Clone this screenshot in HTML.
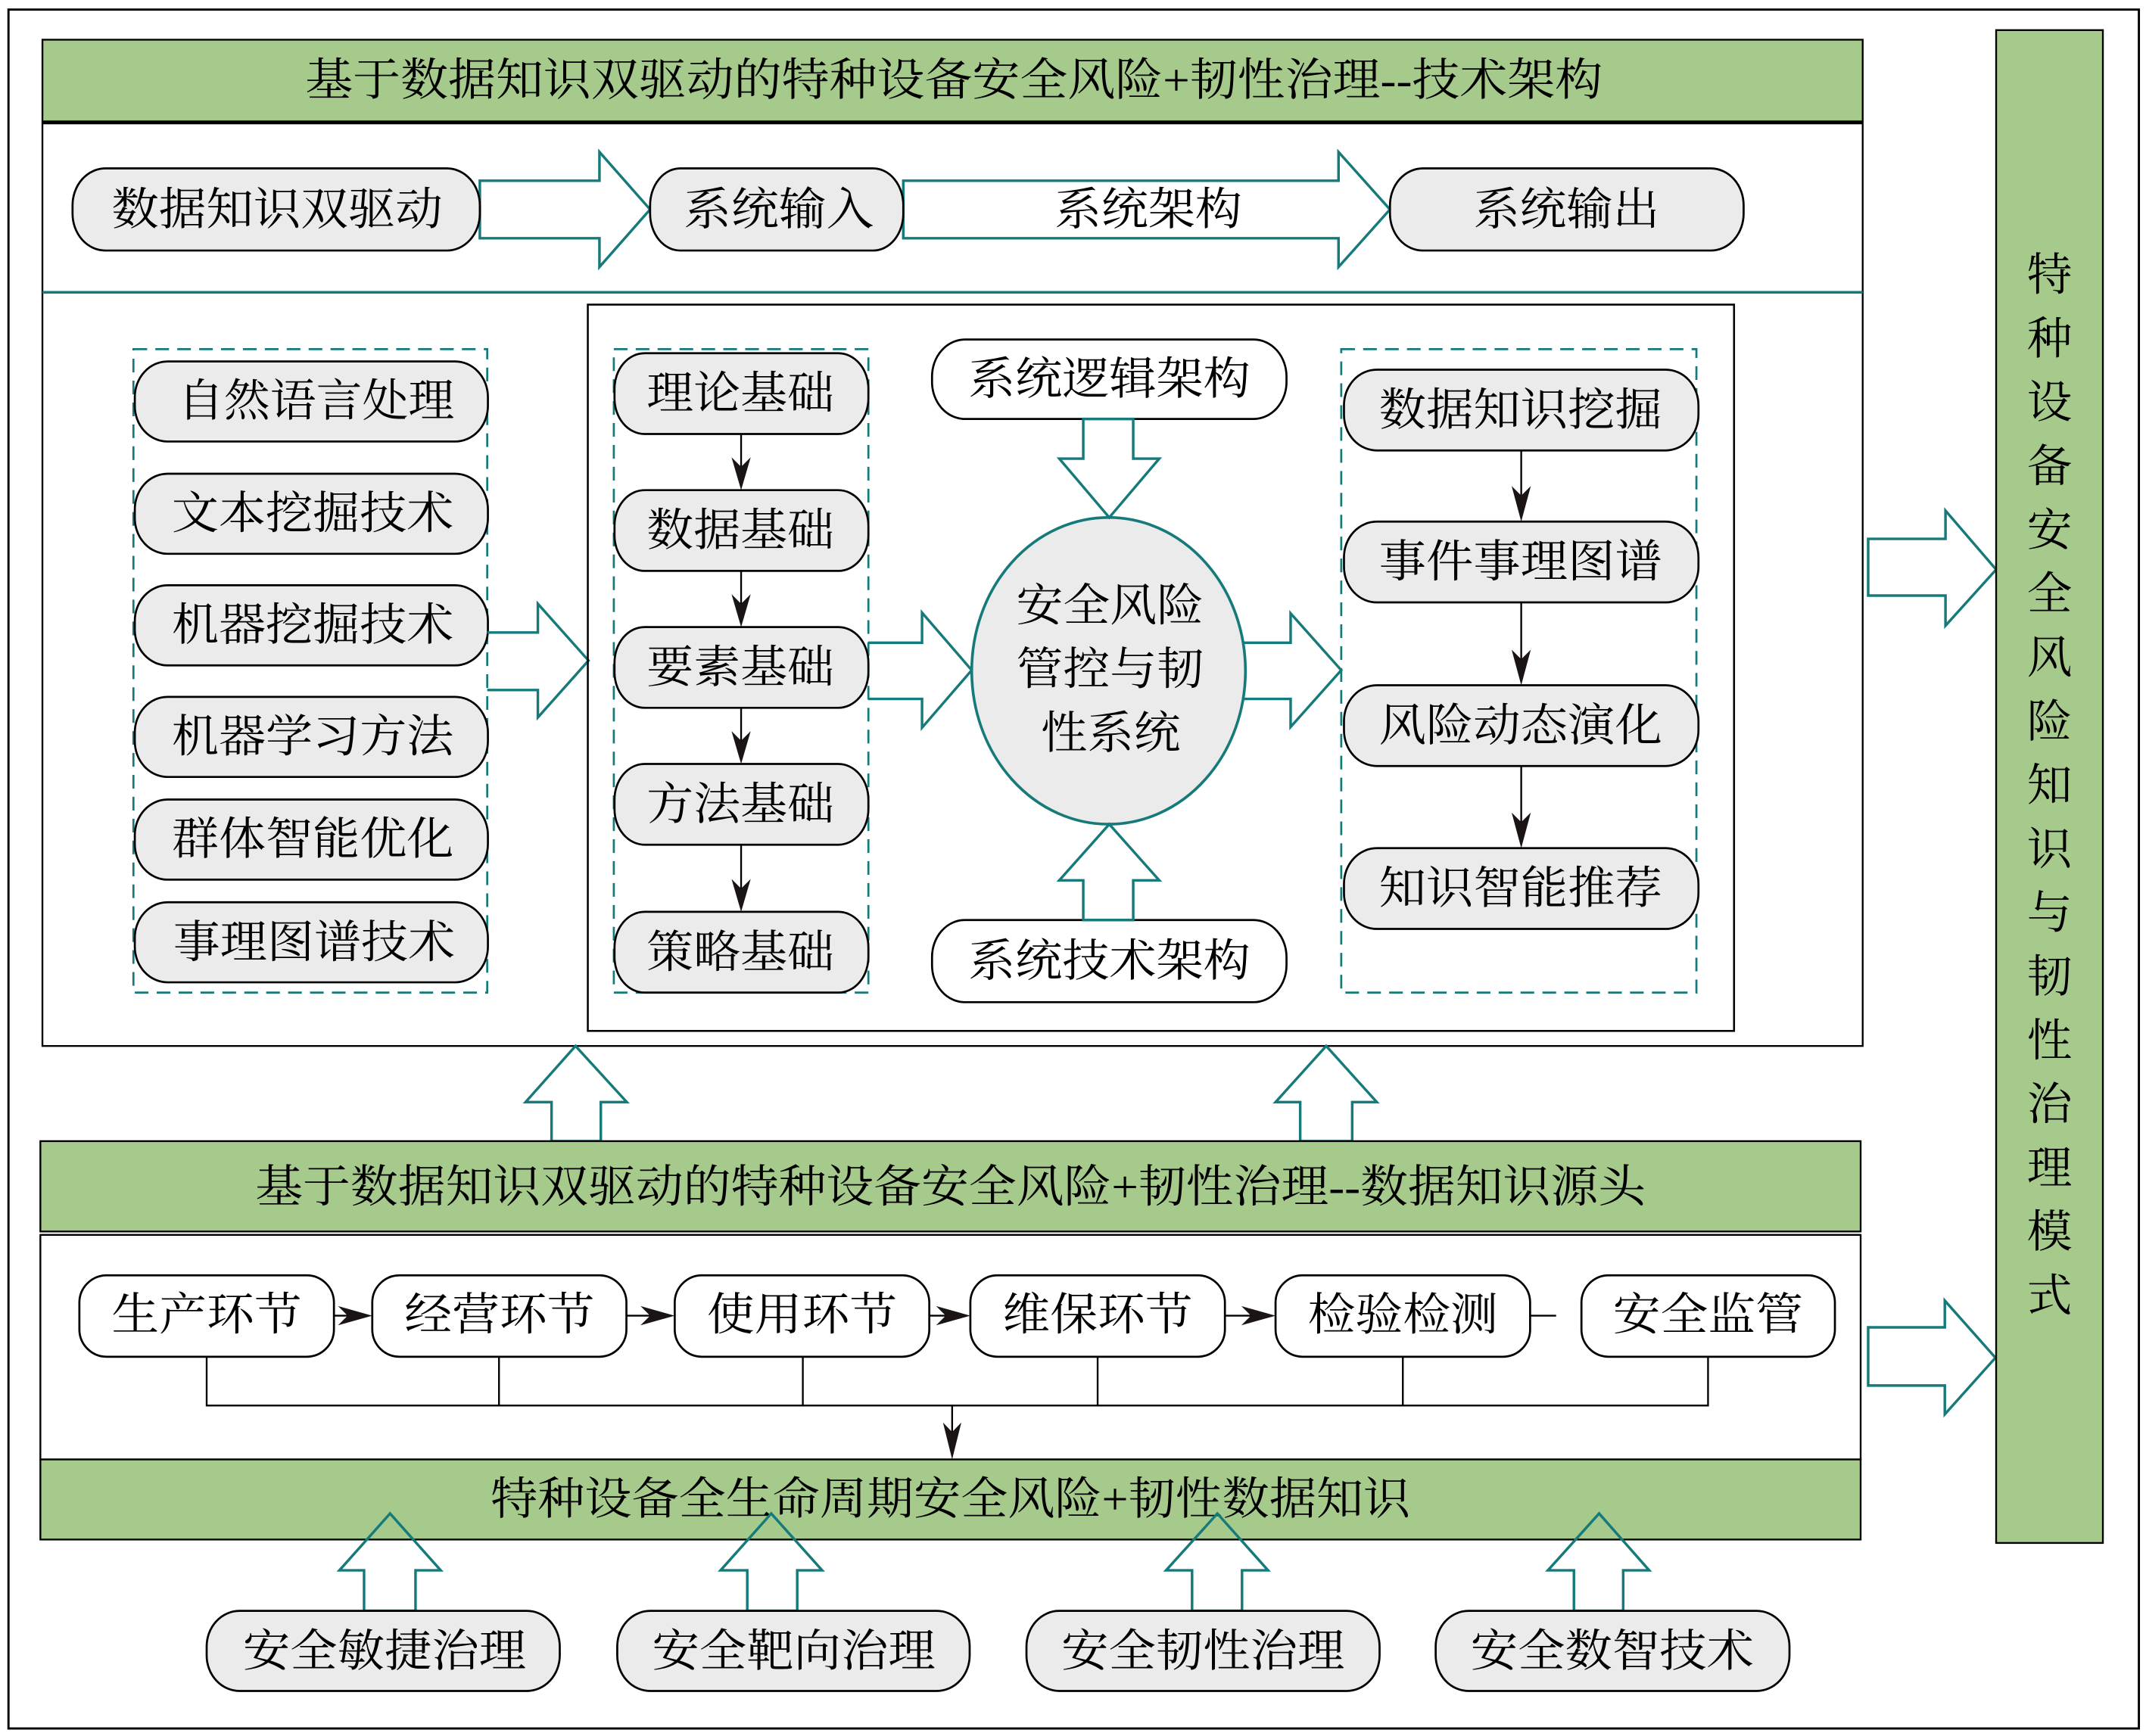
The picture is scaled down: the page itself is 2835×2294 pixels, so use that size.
<!DOCTYPE html>
<html><head><meta charset="utf-8">
<style>
html,body{margin:0;padding:0;background:#fff;width:2835px;height:2294px;overflow:hidden}
svg{display:block}
text{font-family:"Liberation Serif","Noto Serif CJK SC",serif;fill:#000;font-size:33px;dominant-baseline:central}
.g{fill:#ebebeb;stroke:#000;stroke-width:1.5}
.w{fill:#fff;stroke:#000;stroke-width:1.5}
.t{fill:none;stroke:#167a7a;stroke-width:1.9;stroke-linejoin:miter}
.d{fill:none;stroke:#167a7a;stroke-width:1.5;stroke-dasharray:10 6}
.k{stroke:#000;stroke-width:1.3;fill:none}
.h{fill:#1a1414;stroke:none}
.bar{fill:#a6c98c;stroke:#000;stroke-width:1.3}
</style></head>
<body>
<svg width="2835" height="2294" viewBox="0 0 1568 1268" preserveAspectRatio="none" xmlns="http://www.w3.org/2000/svg">
<rect x="0" y="0" width="1568" height="1268" fill="#fff"/>
<!-- outer border -->
<rect x="6.2" y="7" width="1556.6" height="1255.5" fill="none" stroke="#000" stroke-width="1.6"/>

<!-- title bar 1 -->
<rect class="bar" x="31" y="29" width="1330" height="60"/>
<text x="223" y="58.5" textLength="948" lengthAdjust="spacingAndGlyphs">基于数据知识双驱动的特种设备安全风险+韧性治理--技术架构</text>
<!-- upper panel -->
<rect x="31" y="90" width="1330" height="674" fill="none" stroke="#000" stroke-width="1.3"/>
<line x1="31" y1="89.4" x2="1361" y2="89.4" stroke="#000" stroke-width="2.8"/>
<line x1="31" y1="213.5" x2="1361" y2="213.5" stroke="#167a7a" stroke-width="2"/>

<!-- row 1 -->
<polygon class="t" points="350.6,132 438,132 438,111 475,153 438,195 438,174 350.6,174"/>
<polygon class="t" points="660,132 978,132 978,111 1015.6,153 978,195 978,174 660,174"/>
<rect class="g" x="53" y="123" width="297.6" height="60" rx="24" ry="27"/>
<text x="81.5" y="153" textLength="242" lengthAdjust="spacingAndGlyphs">数据知识双驱动</text>
<rect class="g" x="475" y="123" width="185" height="60" rx="22" ry="27"/>
<text x="499.5" y="153" textLength="139" lengthAdjust="spacingAndGlyphs">系统输入</text>
<text x="770.5" y="153" textLength="137" lengthAdjust="spacingAndGlyphs">系统架构</text>
<rect class="g" x="1015.6" y="123" width="258.4" height="60" rx="24" ry="27"/>
<text x="1076.5" y="153" textLength="136" lengthAdjust="spacingAndGlyphs">系统输出</text>

<!-- left column -->
<rect class="d" x="97.5" y="255" width="258.5" height="470"/>
<rect class="g" x="98.5" y="264" width="258" height="58.5" rx="24" ry="26"/>
<text x="130" y="293" textLength="202" lengthAdjust="spacingAndGlyphs">自然语言处理</text>
<rect class="g" x="98.5" y="346" width="258" height="58.5" rx="24" ry="26"/>
<text x="125.5" y="375" textLength="206" lengthAdjust="spacingAndGlyphs">文本挖掘技术</text>
<rect class="g" x="98.5" y="427.5" width="258" height="58.5" rx="24" ry="26"/>
<text x="125.5" y="456.5" textLength="206" lengthAdjust="spacingAndGlyphs">机器挖掘技术</text>
<rect class="g" x="98.5" y="509" width="258" height="58.5" rx="24" ry="26"/>
<text x="125.5" y="538" textLength="206" lengthAdjust="spacingAndGlyphs">机器学习方法</text>
<rect class="g" x="98.5" y="584" width="258" height="58.5" rx="24" ry="26"/>
<text x="125.5" y="613" textLength="206" lengthAdjust="spacingAndGlyphs">群体智能优化</text>
<rect class="g" x="98.5" y="659" width="258" height="58.5" rx="24" ry="26"/>
<text x="126.5" y="688.5" textLength="206" lengthAdjust="spacingAndGlyphs">事理图谱技术</text>

<polyline class="t" points="356,462 393,462 393,441 430,482.5 393,524 393,504 356,504"/>

<!-- inner box -->
<rect x="429.5" y="222.5" width="837.5" height="530.5" fill="none" stroke="#000" stroke-width="1.4"/>

<!-- middle column -->
<rect class="d" x="448.5" y="255" width="186" height="470"/>
<line class="k" x1="541.5" y1="317" x2="541.5" y2="342"/>
<polygon class="h" points="541.5,358 534.5,334 541.5,341 548.5,334"/>
<line class="k" x1="541.5" y1="417" x2="541.5" y2="442"/>
<polygon class="h" points="541.5,458 534.5,434 541.5,441 548.5,434"/>
<line class="k" x1="541.5" y1="517" x2="541.5" y2="542"/>
<polygon class="h" points="541.5,558 534.5,534 541.5,541 548.5,534"/>
<line class="k" x1="541.5" y1="617" x2="541.5" y2="650"/>
<polygon class="h" points="541.5,666 534.5,642 541.5,649 548.5,642"/>
<rect class="g" x="449" y="258" width="185.5" height="59" rx="22" ry="26"/>
<text x="472.5" y="287.5" textLength="137" lengthAdjust="spacingAndGlyphs">理论基础</text>
<rect class="g" x="449" y="358" width="185.5" height="59" rx="22" ry="26"/>
<text x="472.5" y="387.5" textLength="137" lengthAdjust="spacingAndGlyphs">数据基础</text>
<rect class="g" x="449" y="458" width="185.5" height="59" rx="22" ry="26"/>
<text x="472.5" y="487.5" textLength="137" lengthAdjust="spacingAndGlyphs">要素基础</text>
<rect class="g" x="449" y="558" width="185.5" height="59" rx="22" ry="26"/>
<text x="472.5" y="587.5" textLength="137" lengthAdjust="spacingAndGlyphs">方法基础</text>
<rect class="g" x="449" y="666" width="185.5" height="59" rx="22" ry="26"/>
<text x="472.5" y="695.5" textLength="137" lengthAdjust="spacingAndGlyphs">策略基础</text>

<polyline class="t" points="634.4,469.5 673.7,469.5 673.7,447.5 710,489.5 673.7,531.5 673.7,510.5 634.4,510.5"/>

<!-- center ellipse -->
<ellipse cx="810" cy="490" rx="100" ry="112" fill="#ebebeb" stroke="#167a7a" stroke-width="2"/>
<text x="742.5" y="442.5" textLength="137" lengthAdjust="spacingAndGlyphs">安全风险</text>
<text x="742.5" y="489" textLength="137" lengthAdjust="spacingAndGlyphs">管控与韧</text>
<text x="760.5" y="535.5" textLength="102" lengthAdjust="spacingAndGlyphs">性系统</text>

<rect class="w" x="681" y="248" width="259" height="58" rx="24" ry="27"/>
<text x="707.5" y="277" textLength="206" lengthAdjust="spacingAndGlyphs">系统逻辑架构</text>
<polygon class="t" points="791.5,306 791.5,335 774,335 810.5,378 847,335 828,335 828,306"/>
<rect class="w" x="681" y="672" width="259" height="60" rx="24" ry="27"/>
<text x="707.5" y="702" textLength="206" lengthAdjust="spacingAndGlyphs">系统技术架构</text>
<polygon class="t" points="791.5,672 791.5,643 774,643 810.5,602 847,643 828,643 828,672"/>

<polyline class="t" points="908.3,469.5 943,469.5 943,448 980,489.5 943,531 943,510.5 908.3,510.5"/>

<!-- right column -->
<rect class="d" x="980" y="255" width="259.5" height="470"/>
<line class="k" x1="1111.5" y1="329" x2="1111.5" y2="363"/>
<polygon class="h" points="1111.5,381 1104.5,355 1111.5,362 1118.5,355"/>
<line class="k" x1="1111.5" y1="440" x2="1111.5" y2="482"/>
<polygon class="h" points="1111.5,500.5 1104.5,474.5 1111.5,481.5 1118.5,474.5"/>
<line class="k" x1="1111.5" y1="559.5" x2="1111.5" y2="601"/>
<polygon class="h" points="1111.5,619.5 1104.5,593.5 1111.5,600.5 1118.5,593.5"/>
<rect class="g" x="982" y="270" width="259" height="59" rx="24" ry="26"/>
<text x="1007.5" y="299.5" textLength="207" lengthAdjust="spacingAndGlyphs">数据知识挖掘</text>
<rect class="g" x="982" y="381" width="259" height="59" rx="24" ry="26"/>
<text x="1007.5" y="410.5" textLength="207" lengthAdjust="spacingAndGlyphs">事件事理图谱</text>
<rect class="g" x="982" y="500.5" width="259" height="59" rx="24" ry="26"/>
<text x="1007.5" y="530" textLength="207" lengthAdjust="spacingAndGlyphs">风险动态演化</text>
<rect class="g" x="982" y="619.5" width="259" height="59" rx="24" ry="26"/>
<text x="1007.5" y="649" textLength="207" lengthAdjust="spacingAndGlyphs">知识智能推荐</text>

<!-- right arrows -->
<polygon class="t" points="1365,393.6 1421.5,393.6 1421.5,373 1458.5,416 1421.5,457 1421.5,435 1365,435"/>
<polygon class="t" points="1365,969.5 1421,969.5 1421,950 1458,991.7 1421,1033 1421,1012 1365,1012"/>

<!-- right green bar -->
<rect class="bar" x="1458.5" y="22" width="78" height="1105" stroke-width="1.6"/>
<g text-anchor="middle">
<text x="1497.5" y="201">特</text>
<text x="1497.5" y="247.6">种</text>
<text x="1497.5" y="294.2">设</text>
<text x="1497.5" y="340.8">备</text>
<text x="1497.5" y="387.4">安</text>
<text x="1497.5" y="434">全</text>
<text x="1497.5" y="480.6">风</text>
<text x="1497.5" y="527.2">险</text>
<text x="1497.5" y="573.8">知</text>
<text x="1497.5" y="620.4">识</text>
<text x="1497.5" y="667">与</text>
<text x="1497.5" y="713.6">韧</text>
<text x="1497.5" y="760.2">性</text>
<text x="1497.5" y="806.8">治</text>
<text x="1497.5" y="853.4">理</text>
<text x="1497.5" y="900">模</text>
<text x="1497.5" y="946.6">式</text>
</g>

<!-- up arrows between panels -->
<polygon class="t" points="403,833.5 403,805 384,805 420.5,764 458,805 439,805 439,833.5"/>
<polygon class="t" points="950,833.5 950,805 932,805 969,764 1006,805 988,805 988,833.5"/>

<!-- lower title bar -->
<rect class="bar" x="29.5" y="833.5" width="1330" height="66"/>
<text x="186.5" y="867" textLength="1016" lengthAdjust="spacingAndGlyphs">基于数据知识双驱动的特种设备安全风险+韧性治理--数据知识源头</text>
<line x1="29.5" y1="902" x2="1359.5" y2="902" stroke="#000" stroke-width="1.2"/>
<!-- lower panel -->
<rect x="29.5" y="902" width="1330" height="164" fill="none" stroke="#000" stroke-width="1.3"/>

<!-- lifecycle -->
<rect class="w" x="58" y="931.5" width="186" height="59.5" rx="20" ry="20"/>
<text x="81.5" y="960.5" textLength="139" lengthAdjust="spacingAndGlyphs">生产环节</text>
<rect class="w" x="272" y="931.5" width="185.7" height="59.5" rx="20" ry="20"/>
<text x="295.5" y="960.5" textLength="139" lengthAdjust="spacingAndGlyphs">经营环节</text>
<rect class="w" x="493" y="931.5" width="186" height="59.5" rx="20" ry="20"/>
<text x="516.5" y="960.5" textLength="139" lengthAdjust="spacingAndGlyphs">使用环节</text>
<rect class="w" x="709" y="931.5" width="186" height="59.5" rx="20" ry="20"/>
<text x="732.5" y="960.5" textLength="139" lengthAdjust="spacingAndGlyphs">维保环节</text>
<rect class="w" x="932" y="931.5" width="186" height="59.5" rx="20" ry="20"/>
<text x="955.5" y="960.5" textLength="139" lengthAdjust="spacingAndGlyphs">检验检测</text>
<rect class="w" x="1155.5" y="931.5" width="185.2" height="59.5" rx="20" ry="20"/>
<text x="1178.5" y="960.5" textLength="139" lengthAdjust="spacingAndGlyphs">安全监管</text>

<line class="k" x1="244" y1="961" x2="256" y2="961"/>
<polygon class="h" points="272,961 247,954 254,961 247,968"/>
<line class="k" x1="457.7" y1="961" x2="477" y2="961"/>
<polygon class="h" points="493,961 468,954 475,961 468,968"/>
<line class="k" x1="679" y1="961" x2="693" y2="961"/>
<polygon class="h" points="709,961 684,954 691,961 684,968"/>
<line class="k" x1="895" y1="961" x2="916" y2="961"/>
<polygon class="h" points="932,961 907,954 914,961 907,968"/>
<line class="k" x1="1118" y1="961" x2="1137" y2="961"/>

<polyline class="k" points="151,991 151,1026.6 1248,1026.6 1248,991"/>
<line class="k" x1="364.6" y1="991" x2="364.6" y2="1026.6"/>
<line class="k" x1="586.6" y1="991" x2="586.6" y2="1026.6"/>
<line class="k" x1="802" y1="991" x2="802" y2="1026.6"/>
<line class="k" x1="1025" y1="991" x2="1025" y2="1026.6"/>
<line class="k" x1="695.7" y1="1026.6" x2="695.7" y2="1048"/>
<polygon class="h" points="695.7,1066 689,1039 695.7,1046 702.4,1039"/>

<!-- green bar 3 -->
<rect class="bar" x="29.5" y="1066" width="1330" height="58.5"/>
<text x="358.5" y="1095" textLength="672" lengthAdjust="spacingAndGlyphs">特种设备全生命周期安全风险+韧性数据知识</text>

<!-- bottom up arrows -->
<polygon class="t" points="266,1176.6 266,1147 248,1147 285,1105.5 322,1147 303.6,1147 303.6,1176.6"/>
<polygon class="t" points="546,1176.6 546,1147 526.5,1147 563.5,1105.5 600.7,1147 582.5,1147 582.5,1176.6"/>
<polygon class="t" points="871,1176.6 871,1147 852,1147 889.5,1105.5 926.5,1147 907.5,1147 907.5,1176.6"/>
<polygon class="t" points="1150,1176.6 1150,1147 1131,1147 1168.4,1105.5 1205,1147 1186,1147 1186,1176.6"/>

<!-- bottom pills -->
<rect class="g" x="151" y="1176.6" width="258" height="58.5" rx="24" ry="26"/>
<text x="177.5" y="1206" textLength="207" lengthAdjust="spacingAndGlyphs">安全敏捷治理</text>
<rect class="g" x="451" y="1176.6" width="257.5" height="58.5" rx="24" ry="26"/>
<text x="476.5" y="1206" textLength="207" lengthAdjust="spacingAndGlyphs">安全靶向治理</text>
<rect class="g" x="750" y="1176.6" width="258" height="58.5" rx="24" ry="26"/>
<text x="775.5" y="1206" textLength="207" lengthAdjust="spacingAndGlyphs">安全韧性治理</text>
<rect class="g" x="1049" y="1176.6" width="258.5" height="58.5" rx="24" ry="26"/>
<text x="1074.5" y="1206" textLength="207" lengthAdjust="spacingAndGlyphs">安全数智技术</text>
</svg>
</body></html>
